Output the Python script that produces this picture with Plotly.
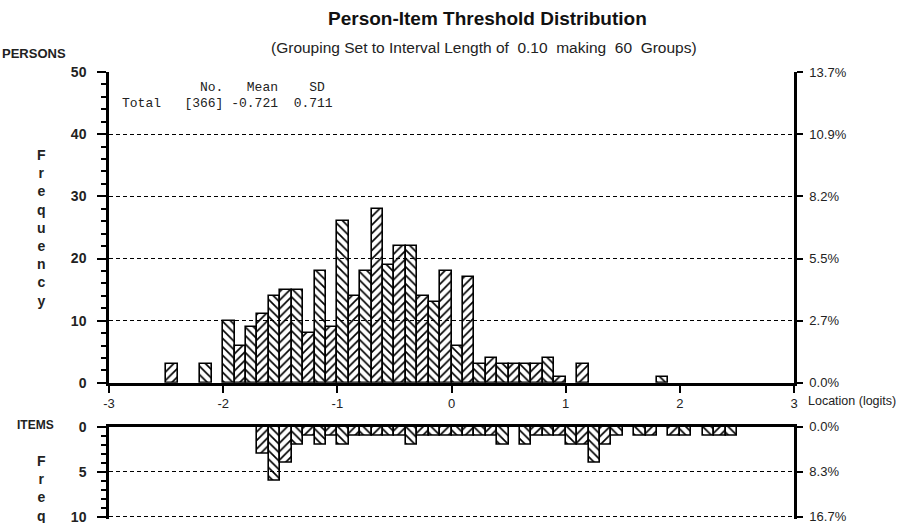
import plotly.graph_objects as go

# ---------------- data ----------------
persons_left = [-2.5, -2.2, -2.0, -1.9, -1.8, -1.7, -1.6, -1.5, -1.4, -1.3, -1.2, -1.1,
                -1.0, -0.9, -0.8, -0.7, -0.6, -0.5, -0.4, -0.3, -0.2, -0.1,
                0.0, 0.1, 0.2, 0.3, 0.4, 0.5, 0.6, 0.7, 0.8, 0.9, 1.1, 1.8]
persons_count = [3, 3, 10, 6, 9, 11, 14, 15, 15, 8, 18, 9,
                 26, 14, 18, 28, 19, 22, 22, 14, 13, 18,
                 6, 17, 3, 4, 3, 3, 3, 3, 4, 1, 3, 1]

items_left = [-1.7, -1.6, -1.5, -1.4, -1.3, -1.2, -1.1, -1.0, -0.9, -0.8, -0.7, -0.6,
              -0.5, -0.4, -0.3, -0.2, -0.1, 0.0, 0.1, 0.2, 0.3, 0.4,
              0.6, 0.7, 0.8, 0.9, 1.0, 1.1, 1.2, 1.3, 1.4, 1.6, 1.7, 1.9, 2.0, 2.2, 2.3, 2.4]
items_count = [3, 6, 4, 2, 1, 2, 1, 2, 1, 1, 1, 1,
               1, 2, 1, 1, 1, 1, 1, 1, 1, 2,
               2, 1, 1, 1, 2, 2, 4, 2, 1, 1, 1, 1, 1, 1, 1, 1]

bin_width = 0.1
x_ticks = [-3, -2, -1, 0, 1, 2, 3]
x_ticktext = ["-3", "-2", "-1", "0", "1", "2", "3"]
persons_ticks = [0, 10, 20, 30, 40, 50]
persons_pct = ["0.0%", "2.7%", "5.5%", "8.2%", "10.9%", "13.7%"]
items_ticks = [0, 5, 10]
items_pct = ["0.0%", "8.3%", "16.7%"]

title = "Person-Item Threshold Distribution"
subtitle = "(Grouping Set to Interval Length of  0.10  making  60  Groups)"
stats_header = "No.   Mean    SD"
stats_row = "Total   [366] -0.721  0.711"

# ---------------- styling ----------------
W, H = 909, 523
ITEMS_TOP_PX, ITEM_PX = 427, 9.0
ITEMS_MAX = 10.25                       # small headroom so the 10-gridline is drawn
items_bottom_px = ITEMS_TOP_PX + ITEMS_MAX * ITEM_PX
L, R, T = 109, 115, 72
B = H - items_bottom_px
PW, PH = W - L - R, H - T - B
NARROW = "Liberation Sans Narrow, Arial Narrow, Liberation Sans, Arial, sans-serif"
MONO = "Liberation Mono, Courier New, DejaVu Sans Mono, monospace"


def px_x(px):
    return (px - L) / PW


def px_y(py):
    return (H - B - py) / PH


persons_dom = [px_y(383), 1.0]
items_dom = [0.0, px_y(ITEMS_TOP_PX)]


def shapes_for(lefts):
    return ["/" if round((l + 3) * 10) % 2 else "\\" for l in lefts]


def bar(lefts, counts, xa, ya):
    return go.Bar(
        x=[l + bin_width / 2 for l in lefts], y=counts, width=bin_width,
        xaxis=xa, yaxis=ya, showlegend=False, hoverinfo="skip",
        marker=dict(color="rgba(255,255,255,0)",
                    line=dict(color="black", width=1.6),
                    pattern=dict(shape=shapes_for(lefts), fgcolor="black",
                                 bgcolor="rgba(255,255,255,0)", size=6,
                                 solidity=0.28, fillmode="replace")),
    )


fig = go.Figure()
fig.add_trace(bar(persons_left, persons_count, "x", "y"))
fig.add_trace(bar(items_left, items_count, "x2", "y2"))
# invisible traces for the right-hand percentage axes
fig.add_trace(go.Scatter(x=[0], y=[0], xaxis="x", yaxis="y3", mode="markers",
                         marker=dict(opacity=0), showlegend=False, hoverinfo="skip"))
fig.add_trace(go.Scatter(x=[0], y=[0], xaxis="x2", yaxis="y4", mode="markers",
                         marker=dict(opacity=0), showlegend=False, hoverinfo="skip"))

grid = dict(showgrid=True, gridcolor="black", gridwidth=1.3, griddash="4px,3px")

fig.update_layout(
    width=W, height=H, autosize=False,
    margin=dict(l=L, r=R, t=T, b=B, autoexpand=False),
    paper_bgcolor="white", plot_bgcolor="white",
    bargap=0,
    xaxis=dict(domain=[0, 1], anchor="y", range=[-3, 3], tickvals=x_ticks,
               ticktext=x_ticktext, ticks="outside", ticklen=7, tickwidth=1.5,
               tickcolor="black", showline=True, linecolor="black", linewidth=2.5,
               showgrid=False, zeroline=False, automargin=False,
               tickfont=dict(family=NARROW, size=13, color="#222")),
    yaxis=dict(domain=persons_dom, anchor="x", range=[0, 50], tickvals=persons_ticks,
               ticks="outside", ticklen=9, tickwidth=1.5, tickcolor="black",
               minor=dict(dtick=2, ticks="outside", ticklen=5, tickwidth=1.5,
                          tickcolor="black", showgrid=False),
               showline=True, linecolor="black", linewidth=2.5, zeroline=False,
               ticklabelstandoff=8, automargin=False,
               tickfont=dict(family=NARROW, size=14, color="#222", weight="bold"),
               **grid),
    yaxis3=dict(overlaying="y", side="right", anchor="x", range=[0, 50],
                tickvals=persons_ticks, ticktext=persons_pct, ticks="outside",
                ticklen=6, tickwidth=1.5, tickcolor="black", showline=True,
                linecolor="black", linewidth=2.5, showgrid=False, zeroline=False,
                ticklabelstandoff=4, automargin=False,
                tickfont=dict(family=NARROW, size=13, color="#222")),
    xaxis2=dict(domain=[0, 1], anchor="y2", range=[-3, 3], side="top",
                showticklabels=False, ticks="", showline=True, linecolor="black",
                linewidth=2.5, showgrid=False, zeroline=False, automargin=False),
    yaxis2=dict(domain=items_dom, anchor="x2", range=[ITEMS_MAX, 0], tickvals=items_ticks,
                ticks="outside", ticklen=9, tickwidth=1.5, tickcolor="black",
                minor=dict(dtick=1, ticks="outside", ticklen=5, tickwidth=1.5,
                           tickcolor="black", showgrid=False),
                showline=True, linecolor="black", linewidth=2.5, zeroline=False,
                ticklabelstandoff=8, automargin=False, ticklabeloverflow="allow",
                tickfont=dict(family=NARROW, size=14, color="#222", weight="bold"),
                **grid),
    yaxis4=dict(overlaying="y2", side="right", anchor="x2", range=[ITEMS_MAX, 0],
                tickvals=items_ticks, ticktext=items_pct, ticks="outside",
                ticklen=6, tickwidth=1.5, tickcolor="black", showline=True,
                linecolor="black", linewidth=2.5, showgrid=False, zeroline=False,
                ticklabelstandoff=4, automargin=False, ticklabeloverflow="allow",
                tickfont=dict(family=NARROW, size=13, color="#222")),
)

ann = []
ann.append(dict(text=f"<b>{title}</b>", x=px_x(488), y=px_y(18), xref="paper", yref="paper",
                showarrow=False, xanchor="center", yanchor="middle",
                font=dict(family=NARROW, size=19, color="#111")))
ann.append(dict(text=subtitle, x=px_x(484), y=px_y(47), xref="paper", yref="paper",
                showarrow=False, xanchor="center", yanchor="middle",
                font=dict(family=NARROW, size=15.5, color="#222")))
ann.append(dict(text="<b>PERSONS</b>", x=px_x(0), y=px_y(53), xref="paper", yref="paper",
                showarrow=False, xanchor="left", yanchor="middle",
                font=dict(family=NARROW, size=13, color="#222")))
ann.append(dict(text="<b>ITEMS</b>", x=px_x(15), y=px_y(425), xref="paper", yref="paper",
                showarrow=False, xanchor="left", yanchor="middle",
                font=dict(family=NARROW, size=12, color="#222")))
ann.append(dict(text="<b>" + "<br>".join("Frequency") + "</b>", x=px_x(41), y=px_y(145),
                xref="paper", yref="paper", showarrow=False, xanchor="center",
                yanchor="top", font=dict(family=NARROW, size=14, color="#222")))
ann.append(dict(text="<b>" + "<br>".join("Freq") + "</b>", x=px_x(41), y=px_y(451),
                xref="paper", yref="paper", showarrow=False, xanchor="center",
                yanchor="top", font=dict(family=NARROW, size=14, color="#222")))
ann.append(dict(text="Location (logits)", x=px_x(806), y=px_y(401), xref="paper",
                yref="paper", showarrow=False, xanchor="left", yanchor="middle",
                font=dict(family=NARROW, size=12.5, color="#222")))
ann.append(dict(text=stats_header.rjust(26).replace(" ", "\u00a0"), x=px_x(120), y=px_y(88),
                xref="paper", yref="paper", showarrow=False, xanchor="left",
                yanchor="middle", font=dict(family=MONO, size=13, color="#222")))
ann.append(dict(text=stats_row.replace(" ", "\u00a0"), x=px_x(120), y=px_y(104),
                xref="paper", yref="paper", showarrow=False, xanchor="left",
                yanchor="middle", font=dict(family=MONO, size=13, color="#222")))
fig.update_layout(annotations=ann)

fig.write_html("out.html", config={"displayModeBar": False},
               post_script="document.body.style.margin='0';")
